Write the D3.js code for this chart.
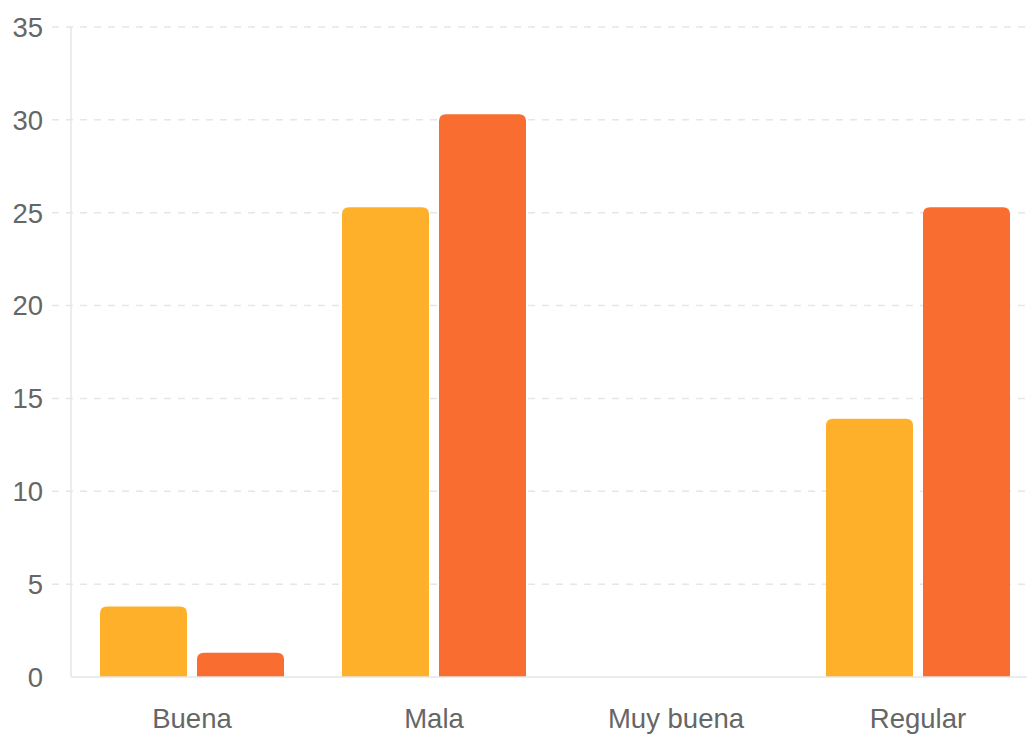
<!DOCTYPE html>
<html><head><meta charset="utf-8">
<script src="https://cdnjs.cloudflare.com/ajax/libs/d3/7.8.5/d3.min.js"></script>
<style>html,body{margin:0;padding:0;background:#fff;overflow:hidden}</style>
</head><body>
<svg id="c" width="1027" height="735"></svg>
<script>
const categories = ["Buena", "Mala", "Muy buena", "Regular"];
const seriesA = [3.8, 25.3, 0, 13.9];
const seriesB = [1.3, 30.3, 0, 25.3];
const yTicks = [0, 5, 10, 15, 20, 25, 30, 35];
const colors = ["#FFB02B", "#F96D31"];

(function () {
const svg = d3.select("#c");
const mLeft = 71, mRight = 1039, mTop = 27, mBottom = 677;
const x = d3.scaleBand().domain(categories).range([mLeft, mRight]).paddingInner(0).paddingOuter(0);
const y = d3.scaleLinear().domain([0, 35]).range([mBottom, mTop]);
const barW = 87, gap = 10;
const font = "'Liberation Sans', Arial, sans-serif";

// grid
svg.append("g").selectAll("line").data(yTicks.filter(d => d > 0)).join("line")
  .attr("x1", 52).attr("x2", 1027)
  .attr("y1", d => y(d)).attr("y2", d => y(d))
  .attr("stroke", "#e6e6e6").attr("stroke-width", 1.5)
  .attr("stroke-dasharray", "7,7");

// y axis line
svg.append("line").attr("x1", mLeft).attr("x2", mLeft).attr("y1", mTop).attr("y2", mBottom)
  .attr("stroke", "#e6e6e6").attr("stroke-width", 1.5);

// y tick labels
svg.append("g").selectAll("text").data(yTicks).join("text")
  .attr("x", 43).attr("y", d => y(d)).attr("dy", "0.36em")
  .attr("text-anchor", "end").attr("fill", "#666")
  .style("font-family", font).style("font-size", "27.5px")
  .text(d => d);

function roundTop(x0, y0, w, h, r) {
  r = Math.min(r, h, w / 2);
  if (h <= 0) return "";
  return `M${x0},${y0 + h}V${y0 + r}Q${x0},${y0} ${x0 + r},${y0}H${x0 + w - r}Q${x0 + w},${y0} ${x0 + w},${y0 + r}V${y0 + h}Z`;
}

const data = [];
categories.forEach((c, i) => {
  data.push({ c, v: seriesA[i], s: 0 });
  data.push({ c, v: seriesB[i], s: 1 });
});
const groupW = barW * 2 + gap;
svg.append("g").selectAll("path").data(data).join("path")
  .attr("d", d => {
    const x0 = x(d.c) + (x.bandwidth() - groupW) / 2 + d.s * (barW + gap);
    return roundTop(x0, y(d.v), barW, y(0) - y(d.v), 7);
  })
  .attr("fill", d => colors[d.s]);

// x axis line
svg.append("line").attr("x1", mLeft).attr("x2", 1027).attr("y1", mBottom).attr("y2", mBottom)
  .attr("stroke", "#e6e6e6").attr("stroke-width", 1.5);

// x labels
svg.append("g").selectAll("text").data(categories).join("text")
  .attr("x", d => x(d) + x.bandwidth() / 2).attr("y", 728)
  .attr("text-anchor", "middle").attr("fill", "#666")
  .style("font-family", font).style("font-size", "27.5px")
  .text(d => d);
})();
</script>
</body></html>
